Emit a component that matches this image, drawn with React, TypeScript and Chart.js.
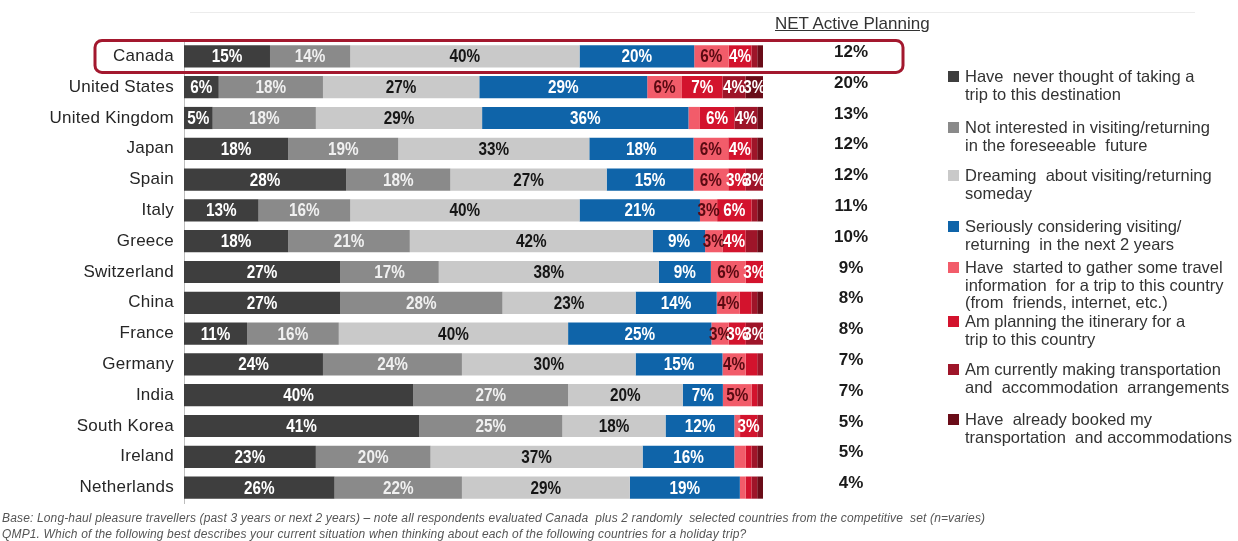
import React, { useEffect, useRef } from "react";
import { Chart, registerables } from "chart.js";

Chart.register(...registerables);

const categories = ["Canada", "United States", "United Kingdom", "Japan", "Spain", "Italy", "Greece", "Switzerland", "China", "France", "Germany", "India", "South Korea", "Ireland", "Netherlands"];
const neverThought = [15, 6, 5, 18, 28, 13, 18, 27, 27, 11, 24, 40, 41, 23, 26];
const notInterested = [14, 18, 18, 19, 18, 16, 21, 17, 28, 16, 24, 27, 25, 20, 22];
const dreaming = [40, 27, 29, 33, 27, 40, 42, 38, 23, 40, 30, 20, 18, 37, 29];
const considering = [20, 29, 36, 18, 15, 21, 9, 9, 14, 25, 15, 7, 12, 16, 19];
const gathering = [6, 6, 2, 6, 6, 3, 3, 6, 4, 3, 4, 5, 1, 2, 1];
const planning = [4, 7, 6, 4, 3, 6, 4, 3, 2, 3, 2, 1, 3, 1, 1];
const making = [1, 4, 4, 1, 3, 1, 2, 0, 1, 3, 1, 1, 1, 1, 1];
const booked = [1, 3, 1, 1, 0, 1, 1, 0, 1, 0, 0, 0, 0, 1, 1];
const netActive = [12, 20, 13, 12, 12, 11, 10, 9, 8, 8, 7, 7, 5, 5, 4];

const seriesLabels = [
  ["Have  never thought of taking a", "trip to this destination"],
  ["Not interested in visiting/returning", "in the foreseeable  future"],
  ["Dreaming  about visiting/returning", "someday"],
  ["Seriously considering visiting/", "returning  in the next 2 years"],
  ["Have  started to gather some travel", "information  for a trip to this country", "(from  friends, internet, etc.)"],
  ["Am planning the itinerary for a", "trip to this country"],
  ["Am currently making transportation", "and  accommodation  arrangements"],
  ["Have  already booked my", "transportation  and accommodations"],
];
const seriesValues = [neverThought, notInterested, dreaming, considering, gathering, planning, making, booked];
const seriesColors = ["#3e3e3e", "#8a8a8a", "#c9c9c9", "#0f64a9", "#f25c6a", "#d3132d", "#9e1529", "#6a0c18"];
const labelColors = ["#ffffff", "#f0f0f0", "#151515", "#ffffff", "#5a0a12", "#ffffff", "#ffffff", "#ffffff"];
const legendTops = [77, 128, 176, 227, 268, 322, 370, 420];

const FONT = "'Liberation Sans', Arial, sans-serif";

export default function App() {
  const ref = useRef<HTMLCanvasElement | null>(null);

  useEffect(() => {
    if (!ref.current) return;
    const totals = categories.map((_, i) => seriesValues.reduce((s, arr) => s + arr[i], 0));
    const datasets = seriesValues.map((arr, k) => ({
      label: seriesLabels[k].join(" "),
      data: arr.map((v, i) => (v / totals[i]) * 100),
      raw: arr,
      backgroundColor: seriesColors[k],
      borderWidth: 0,
      barPercentage: 0.72,
      categoryPercentage: 1,
    }));

    const labelsPlugin = {
      id: "segLabels",
      beforeDraw(chart: any) {
        chart.ctx.letterSpacing = "0.25px";
      },
      beforeDatasetsDraw(chart: any) {
        chart.ctx.letterSpacing = "0px";
      },
      afterDatasetsDraw(chart: any) {
        const ctx = chart.ctx;
        ctx.save();
        ctx.letterSpacing = "0px";
        ctx.font = `bold 18px ${FONT}`;
        ctx.textAlign = "center";
        ctx.textBaseline = "middle";
        chart.data.datasets.forEach((ds: any, k: number) => {
          const meta = chart.getDatasetMeta(k);
          meta.data.forEach((bar: any, i: number) => {
            const v = ds.raw[i];
            if (v < 3) return;
            const x = (bar.x + bar.base) / 2;
            ctx.save();
            ctx.translate(x, bar.y + 1);
            ctx.scale(0.85, 1);
            ctx.fillStyle = labelColors[k];
            ctx.fillText(v + "%", 0, 0);
            ctx.restore();
          });
        });
        // NET values
        const meta0 = chart.getDatasetMeta(0);
        ctx.font = `bold 17px ${FONT}`;
        ctx.fillStyle = "#1a1a1a";
        meta0.data.forEach((bar: any, i: number) => {
          ctx.fillText(netActive[i] + "%", 851, bar.y - 4);
        });
        // highlight box around first row
        const b = meta0.data[0];
        ctx.strokeStyle = "#a3182e";
        ctx.lineWidth = 3;
        ctx.beginPath();
        ctx.roundRect(95, b.y - 16, 808, 32, 7);
        ctx.stroke();
        ctx.restore();
      },
    };

    const chart = new Chart(ref.current, {
      type: "bar",
      data: { labels: categories, datasets: datasets as any },
      options: {
        animation: false,
        responsive: false,
        devicePixelRatio: 1,
        indexAxis: "y",
        layout: { padding: { left: 0, right: 475, top: 41, bottom: 38 } },
        plugins: { legend: { display: false }, tooltip: { enabled: false } },
        scales: {
          x: { stacked: true, min: 0, max: 100, display: false },
          y: {
            stacked: true,
            grid: { display: false, drawTicks: false },
            border: { display: true, color: "#bdbdbd", width: 1 },
            ticks: { padding: 10, color: "#262626", font: { family: FONT, size: 17 } },
            afterFit: (scale: any) => {
              scale.width = 184;
            },
          },
        },
      },
      plugins: [labelsPlugin],
    });
    return () => chart.destroy();
  }, []);

  return (
    <div style={{ position: "fixed", left: 0, top: 0, width: 1238, height: 541, background: "#fff", overflow: "hidden", fontFamily: FONT }}>
      <div style={{ position: "absolute", left: 190, top: 12, width: 1005, height: 1, background: "#ececec" }} />
      <canvas ref={ref} width={1238} height={541} style={{ position: "absolute", left: 0, top: 0 }} />
      <div style={{ position: "absolute", left: 775, top: 14, fontSize: 17, color: "#333", textDecoration: "underline", whiteSpace: "nowrap" }}>
        NET Active Planning
      </div>
      {seriesLabels.map((lines, k) => (
        <div key={k} style={{ position: "absolute", left: 948, top: legendTops[k] - 9 }}>
          <div style={{ position: "absolute", left: 0, top: 3, width: 11, height: 11, background: seriesColors[k] }} />
          <div style={{ position: "absolute", left: 17, top: 0, fontSize: 16.5, lineHeight: "17.5px", color: "#333", whiteSpace: "pre" }}>
            {lines.join("\n")}
          </div>
        </div>
      ))}
      <div style={{ position: "absolute", left: 2, top: 510, fontSize: 12, letterSpacing: "0.15px", fontStyle: "italic", color: "#555", whiteSpace: "pre", lineHeight: "16px" }}>
        {"Base: Long-haul pleasure travellers (past 3 years or next 2 years) – note all respondents evaluated Canada  plus 2 randomly  selected countries from the competitive  set (n=varies)\nQMP1. Which of the following best describes your current situation when thinking about each of the following countries for a holiday trip?"}
      </div>
    </div>
  );
}
